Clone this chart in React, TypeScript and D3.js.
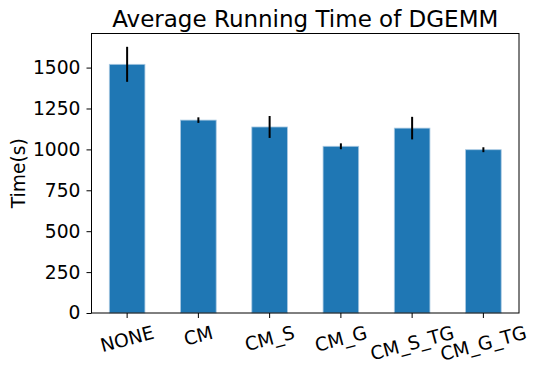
import * as d3 from 'd3'
import { useEffect, useRef } from 'react'

const categories = ['NONE', 'CM', 'CM_S', 'CM_G', 'CM_S_TG', 'CM_G_TG']
const means = [1520, 1179, 1137, 1019, 1130, 998]
const errors = [107, 17, 67, 18, 69, 15]
const yTicks = [0, 250, 500, 750, 1000, 1250, 1500]

const App = () => {
    const ref = useRef<SVGSVGElement>(null)

    useEffect(() => {
        const width = 540
        const height = 373
        const margin = { top: 33.5, bottom: 60, right: 21, left: 91.5 }
        const innerW = width - margin.left - margin.right
        const innerH = height - margin.top - margin.bottom

        const svg = d3.select(ref.current)
        svg.selectAll('*').remove()

        const g = svg.append('g').attr('transform', `translate(${margin.left},${margin.top})`)

        // x: bande di una unità per categoria, barre larghe 0.5
        const x = d3.scaleBand().domain(categories).range([0, innerW]).paddingInner(0.5).paddingOuter(0.25)
        const yMax = d3.max(means.map((m, i) => m + errors[i])) * 1.05
        const y = d3.scaleLinear().domain([0, yMax]).range([innerH, 0])

        const font = 'DejaVu Sans, sans-serif'
        const fs = 18.7

        // barre
        g.selectAll('.bar')
            .data(categories)
            .enter()
            .append('rect')
            .attr('x', d => x(d))
            .attr('y', (d, i) => y(means[i]))
            .attr('width', x.bandwidth())
            .attr('height', (d, i) => innerH - y(means[i]))
            .attr('fill', '#1f77b4')
            .attr('stroke', '#a9c9e2')
            .attr('stroke-width', 0.8)

        // barre di errore
        g.selectAll('.err')
            .data(categories)
            .enter()
            .append('line')
            .attr('x1', d => x(d) + x.bandwidth() / 2)
            .attr('x2', d => x(d) + x.bandwidth() / 2)
            .attr('y1', (d, i) => y(means[i] + errors[i]))
            .attr('y2', (d, i) => y(means[i] - errors[i]))
            .attr('stroke', '#000')
            .attr('stroke-width', 2)

        // cornice
        g.append('rect')
            .attr('width', innerW)
            .attr('height', innerH)
            .attr('fill', 'none')
            .attr('stroke', '#000')
            .attr('stroke-width', 1)

        // asse y
        const yAxis = g.append('g').call(
            d3.axisLeft(y).tickValues(yTicks).tickFormat(d3.format('d')).tickSize(5).tickPadding(6)
        )
        yAxis.select('.domain').remove()
        yAxis.attr('font-family', font).attr('font-size', fs)
        yAxis.selectAll('text').attr('fill', '#000')
        yAxis.selectAll('line').attr('stroke', '#000')

        // asse x
        const xAxis = g.append('g').attr('transform', `translate(0,${innerH})`)
        categories.forEach(c => {
            const cx = x(c) + x.bandwidth() / 2
            xAxis.append('line').attr('x1', cx).attr('x2', cx).attr('y1', 0).attr('y2', 5).attr('stroke', '#000')
            const t = xAxis.append('text')
                .text(c)
                .attr('font-family', font)
                .attr('font-size', fs)
                .attr('text-anchor', 'middle')
                .attr('dominant-baseline', 'central')
            const w = (t.node() as SVGTextElement).getComputedTextLength()
            const rad = 15 * Math.PI / 180
            const hh = w * Math.sin(rad) + fs * 1.16 * Math.cos(rad)
            const cy = 8.5 + hh / 2
            t.attr('transform', `translate(${cx},${cy}) rotate(-15)`)
        })

        // etichetta y
        g.append('text')
            .text('Time(s)')
            .attr('font-family', font)
            .attr('font-size', fs)
            .attr('text-anchor', 'middle')
            .attr('transform', `translate(${-margin.left + 25},${innerH / 2}) rotate(-90)`)

        // titolo
        svg.append('text')
            .text('Average Running Time of DGEMM')
            .attr('font-family', font)
            .attr('font-size', 23)
            .attr('text-anchor', 'middle')
            .attr('x', margin.left + innerW / 2)
            .attr('y', 27)
    }, [])

    return (
        <svg ref={ref} width={540} height={373} style={{ position: 'absolute', left: 0, top: 0, background: '#fff' }} />
    )
}

export default App
